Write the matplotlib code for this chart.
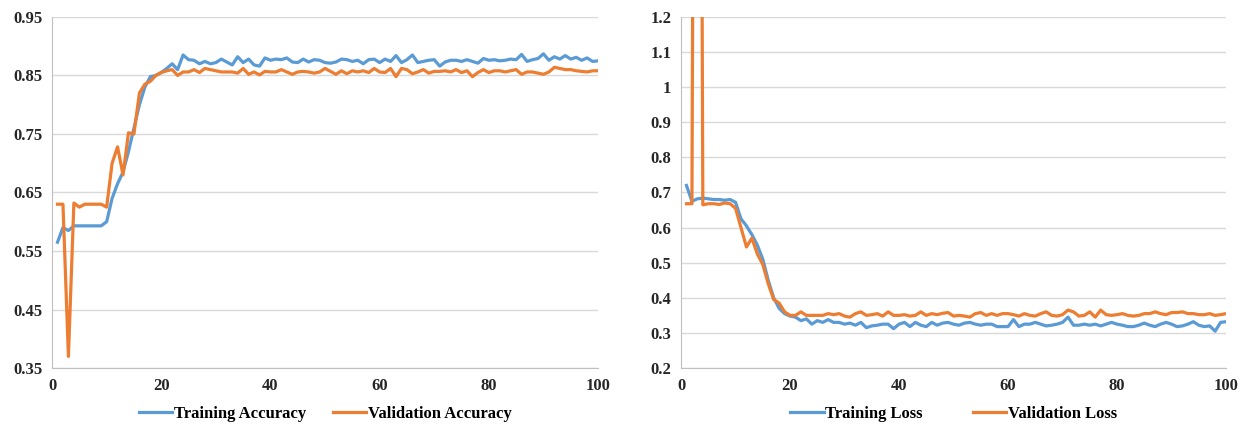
import numpy as np
import matplotlib
matplotlib.use("Agg")
import matplotlib.pyplot as plt

# epochs
epochs = np.arange(1, 101)

# accuracy curves
train_acc = [0.565, 0.59, 0.585, 0.593, 0.593, 0.593, 0.593, 0.593, 0.593, 0.60,
             0.64, 0.665, 0.685, 0.72, 0.76, 0.80, 0.83, 0.848, 0.85, 0.855,
             0.862, 0.87, 0.86, 0.885, 0.877, 0.876, 0.87, 0.874, 0.87, 0.872,
             0.878, 0.873, 0.868, 0.882, 0.872, 0.878, 0.868, 0.866, 0.88, 0.876,
             0.878, 0.877, 0.88, 0.873, 0.872, 0.878, 0.873, 0.877, 0.876, 0.872,
             0.871, 0.873, 0.878, 0.877, 0.874, 0.876, 0.87, 0.877, 0.878, 0.872,
             0.878, 0.874, 0.884, 0.872, 0.877, 0.885, 0.872, 0.874, 0.876, 0.877,
             0.866, 0.873, 0.876, 0.876, 0.874, 0.877, 0.874, 0.871, 0.879, 0.876,
             0.877, 0.875, 0.876, 0.878, 0.877, 0.886, 0.874, 0.877, 0.879, 0.887,
             0.876, 0.882, 0.878, 0.884, 0.878, 0.881, 0.876, 0.88, 0.874, 0.875]
val_acc = [0.63, 0.63, 0.37, 0.632, 0.625, 0.63, 0.63, 0.63, 0.63, 0.625,
           0.70, 0.728, 0.68, 0.752, 0.75, 0.82, 0.835, 0.84, 0.85, 0.855,
           0.858, 0.86, 0.85, 0.856, 0.856, 0.86, 0.855, 0.862, 0.86, 0.858,
           0.856, 0.856, 0.856, 0.854, 0.862, 0.852, 0.856, 0.851, 0.857, 0.856,
           0.856, 0.86, 0.856, 0.852, 0.856, 0.857, 0.856, 0.854, 0.856, 0.862,
           0.857, 0.852, 0.858, 0.853, 0.858, 0.856, 0.858, 0.855, 0.862, 0.856,
           0.855, 0.862, 0.848, 0.862, 0.86, 0.853, 0.856, 0.86, 0.854, 0.857,
           0.857, 0.858, 0.856, 0.86, 0.855, 0.858, 0.848, 0.855, 0.86, 0.855,
           0.858, 0.858, 0.856, 0.858, 0.86, 0.852, 0.856, 0.856, 0.854, 0.852,
           0.856, 0.864, 0.862, 0.86, 0.86, 0.858, 0.857, 0.856, 0.858, 0.858]

# loss curves
train_loss = [0.72, 0.675, 0.682, 0.684, 0.682, 0.68, 0.68, 0.678, 0.68, 0.672,
              0.625, 0.605, 0.58, 0.55, 0.51, 0.45, 0.40, 0.37, 0.355, 0.348,
              0.345, 0.335, 0.34, 0.325, 0.335, 0.33, 0.338, 0.33, 0.33, 0.325,
              0.328, 0.322, 0.33, 0.315, 0.32, 0.322, 0.325, 0.325, 0.312, 0.325,
              0.33, 0.318, 0.33, 0.322, 0.318, 0.33, 0.322, 0.328, 0.33, 0.325,
              0.322, 0.328, 0.33, 0.325, 0.322, 0.325, 0.325, 0.318, 0.318, 0.318,
              0.338, 0.318, 0.325, 0.325, 0.33, 0.325, 0.32, 0.322, 0.325, 0.33,
              0.345, 0.322, 0.322, 0.325, 0.322, 0.325, 0.32, 0.325, 0.33, 0.325,
              0.322, 0.318, 0.318, 0.322, 0.328, 0.322, 0.318, 0.325, 0.33, 0.325,
              0.318, 0.32, 0.325, 0.332, 0.322, 0.318, 0.32, 0.305, 0.33, 0.332]
val_loss = [0.668, 0.668, 5.0, 0.665, 0.668, 0.668, 0.666, 0.67, 0.668, 0.655,
            0.60, 0.545, 0.57, 0.525, 0.495, 0.44, 0.395, 0.385, 0.36, 0.35,
            0.35, 0.36, 0.35, 0.35, 0.35, 0.35, 0.355, 0.352, 0.355, 0.348,
            0.345, 0.355, 0.36, 0.35, 0.352, 0.355, 0.348, 0.36, 0.35, 0.35,
            0.352, 0.348, 0.35, 0.36, 0.35, 0.355, 0.352, 0.356, 0.358, 0.348,
            0.35, 0.348, 0.345, 0.355, 0.358, 0.35, 0.355, 0.35, 0.355, 0.355,
            0.352, 0.348, 0.355, 0.35, 0.348, 0.355, 0.36, 0.35, 0.348, 0.352,
            0.365, 0.36, 0.348, 0.35, 0.36, 0.345, 0.365, 0.352, 0.35, 0.352,
            0.355, 0.35, 0.348, 0.35, 0.355, 0.355, 0.36, 0.355, 0.352, 0.358,
            0.358, 0.36, 0.355, 0.355, 0.352, 0.352, 0.355, 0.35, 0.352, 0.355]

acc_ticks = [0.35, 0.45, 0.55, 0.65, 0.75, 0.85, 0.95]
loss_ticks = [0.2, 0.3, 0.4, 0.5, 0.6, 0.7, 0.8, 0.9, 1.0, 1.1, 1.2]
loss_labels = ["0.2", "0.3", "0.4", "0.5", "0.6", "0.7", "0.8", "0.9", "1", "1.1", "1.2"]
x_ticks = [0, 20, 40, 60, 80, 100]

blue = "#5b9bd5"
orange = "#ed7d31"

plt.rcParams["font.family"] = ["Liberation Serif", "DejaVu Serif"]
plt.rcParams["font.weight"] = "bold"

fig = plt.figure(figsize=(12.48, 4.24), dpi=100)
ax1 = fig.add_axes([0.0417, 0.132, 0.4375, 0.828])
ax2 = fig.add_axes([0.5457, 0.132, 0.4367, 0.828])


def style(ax, yticks, ylabels, ylim):
    ax.set_xlim(0, 100)
    ax.set_ylim(*ylim)
    ax.set_xticks(x_ticks)
    ax.set_yticks(yticks)
    ax.set_yticklabels(ylabels)
    ax.grid(axis="y", color="#d9d9d9", linewidth=1)
    ax.set_axisbelow(True)
    for s in ["top", "right"]:
        ax.spines[s].set_visible(False)
    for s in ["left", "bottom"]:
        ax.spines[s].set_color("#bfbfbf")
    ax.tick_params(length=0, labelsize=12, colors="#262626", pad=7)
    for lab in ax.get_xticklabels() + ax.get_yticklabels():
        lab.set_fontweight("bold")


ax1.plot(epochs, train_acc, color=blue, linewidth=2.3, label="Training Accuracy")
ax1.plot(epochs, val_acc, color=orange, linewidth=2.3, label="Validation Accuracy")
style(ax1, acc_ticks, [f"{t:.2f}" for t in acc_ticks], (0.35, 0.95))
ax1.legend(loc="upper center", bbox_to_anchor=(0.5, -0.065), ncol=2, frameon=False,
           handlelength=2.0, handletextpad=0.1, columnspacing=1.6,
           prop={"weight": "bold", "size": 12})

ax2.plot(epochs, train_loss, color=blue, linewidth=2.3, label="Training Loss")
ax2.plot(epochs, val_loss, color=orange, linewidth=2.3, label="Validation Loss")
style(ax2, loss_ticks, loss_labels, (0.2, 1.2))
ax2.legend(loc="upper center", bbox_to_anchor=(0.5, -0.065), ncol=2, frameon=False,
           handlelength=2.0, handletextpad=0.1, columnspacing=3.0,
           prop={"weight": "bold", "size": 12})

fig.savefig("out.png", dpi=100)
